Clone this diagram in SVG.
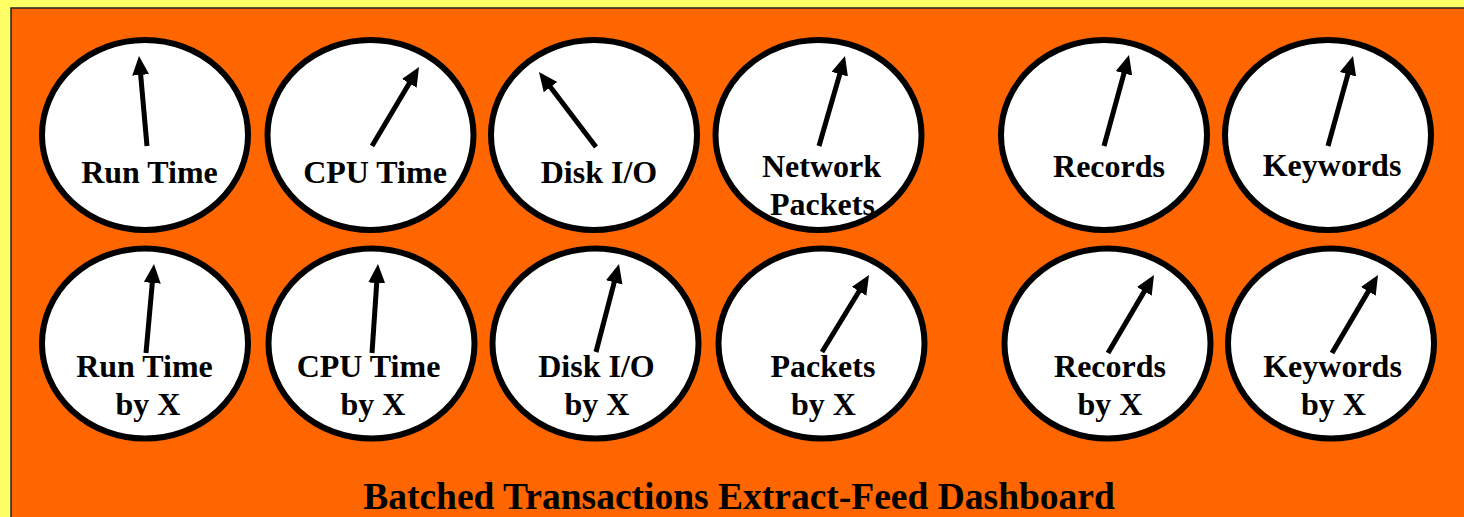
<svg xmlns="http://www.w3.org/2000/svg" width="1464" height="517" viewBox="0 0 1464 517">
  <style>
    .dial { fill: #ffffff; stroke: #000000; stroke-width: 6; }
    .needle { stroke: #000000; stroke-width: 5; fill: none; marker-end: url(#tip); stroke-dasharray: 87 100; }
    .lbl { font-family: "Liberation Serif", "Times New Roman", serif; font-weight: bold; font-size: 32px; fill: #000000; text-anchor: middle; }
    .title { font-family: "Liberation Serif", "Times New Roman", serif; font-weight: bold; font-size: 37.5px; fill: #000000; text-anchor: middle; }
  </style>
  <defs>
    <marker id="tip" markerUnits="userSpaceOnUse" markerWidth="20" markerHeight="18" refX="19" refY="8.5" orient="auto" viewBox="0 0 20 18">
      <path d="M0,0 L19,8.5 L0,17 z" fill="#000000"/>
    </marker>
  </defs>

  <!-- page and panel -->
  <rect x="0" y="0" width="1464" height="517" fill="#ffff66"/>
  <rect x="11" y="8" width="1460" height="520" fill="#ff6600" stroke="#222222" stroke-width="1.5"/>

  <!-- top row of dials -->
  <g id="run-time">
    <ellipse class="dial" cx="145" cy="135" rx="103" ry="95"/>
    <text class="lbl" x="149.5" y="183">Run Time</text>
  </g>
  <g id="cpu-time">
    <ellipse class="dial" cx="370.5" cy="135" rx="103" ry="95"/>
    <text class="lbl" x="375" y="183">CPU Time</text>
  </g>
  <g id="disk-io">
    <ellipse class="dial" cx="594" cy="135" rx="103" ry="95"/>
    <text class="lbl" x="599" y="183">Disk I/O</text>
  </g>
  <g id="network-packets">
    <ellipse class="dial" cx="818.5" cy="135" rx="103" ry="95"/>
    <text class="lbl" x="821.5" y="177">Network</text>
    <text class="lbl" x="822.5" y="215">Packets</text>
  </g>
  <g id="records">
    <ellipse class="dial" cx="1104" cy="135" rx="103" ry="95"/>
    <text class="lbl" x="1109" y="177">Records</text>
  </g>
  <g id="keywords">
    <ellipse class="dial" cx="1328" cy="135" rx="103" ry="95"/>
    <text class="lbl" x="1332" y="176">Keywords</text>
  </g>

  <!-- bottom row of dials -->
  <g id="run-time-by-x">
    <ellipse class="dial" cx="145" cy="343.5" rx="103" ry="95"/>
    <text class="lbl" x="144.5" y="377">Run Time</text>
    <text class="lbl" x="148" y="415">by X</text>
  </g>
  <g id="cpu-time-by-x">
    <ellipse class="dial" cx="371.5" cy="343.5" rx="103" ry="95"/>
    <text class="lbl" x="368.5" y="377">CPU Time</text>
    <text class="lbl" x="373" y="415">by X</text>
  </g>
  <g id="disk-io-by-x">
    <ellipse class="dial" cx="595.5" cy="343.5" rx="103" ry="95"/>
    <text class="lbl" x="596.5" y="377">Disk I/O</text>
    <text class="lbl" x="597" y="415">by X</text>
  </g>
  <g id="packets-by-x">
    <ellipse class="dial" cx="821.5" cy="343.5" rx="103" ry="95"/>
    <text class="lbl" x="823" y="377">Packets</text>
    <text class="lbl" x="823.5" y="415">by X</text>
  </g>
  <g id="records-by-x">
    <ellipse class="dial" cx="1107.5" cy="343.5" rx="103" ry="95"/>
    <text class="lbl" x="1110" y="377">Records</text>
    <text class="lbl" x="1110" y="415">by X</text>
  </g>
  <g id="keywords-by-x">
    <ellipse class="dial" cx="1331" cy="343.5" rx="103" ry="95"/>
    <text class="lbl" x="1332.5" y="377">Keywords</text>
    <text class="lbl" x="1333.5" y="415">by X</text>
  </g>

  <!-- dial needles -->
  <g id="needles">
    <line class="needle" pathLength="100" x1="147" y1="146" x2="139" y2="56"/>
    <line class="needle" pathLength="100" x1="372" y1="146" x2="419" y2="67"/>
    <line class="needle" pathLength="100" x1="596" y1="147" x2="539" y2="72"/>
    <line class="needle" pathLength="100" x1="819" y1="146" x2="845" y2="56"/>
    <line class="needle" pathLength="100" x1="1104" y1="146" x2="1129" y2="55"/>
    <line class="needle" pathLength="100" x1="1328" y1="146" x2="1353" y2="56"/>

    <line class="needle" pathLength="100" x1="146" y1="353" x2="154" y2="264"/>
    <line class="needle" pathLength="100" x1="372" y1="353" x2="378" y2="264"/>
    <line class="needle" pathLength="100" x1="596" y1="352" x2="619" y2="264"/>
    <line class="needle" pathLength="100" x1="822" y1="352" x2="869" y2="275"/>
    <line class="needle" pathLength="100" x1="1108" y1="353" x2="1154" y2="275"/>
    <line class="needle" pathLength="100" x1="1332" y1="353" x2="1378" y2="275"/>
  </g>

  <text class="title" x="739" y="509">Batched Transactions Extract-Feed Dashboard</text>
</svg>
